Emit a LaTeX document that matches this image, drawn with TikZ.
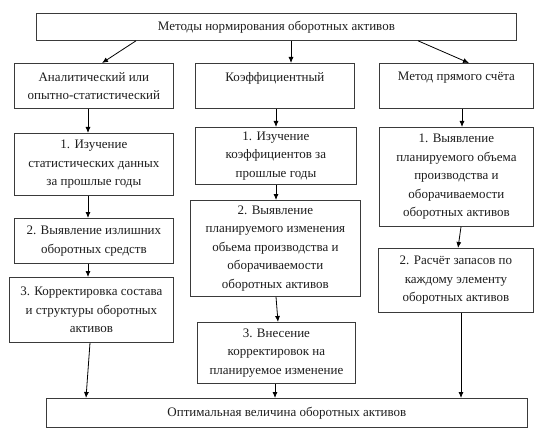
\documentclass[tikz,border=0pt]{standalone}
\usepackage{fontspec}
\setmainfont{Liberation Serif}
\usetikzlibrary{arrows.meta}
\definecolor{boxline}{HTML}{3A3A3A}
\definecolor{txt}{HTML}{1E1E1E}
\tikzset{
  box/.style={draw=boxline, line width=0.8pt, anchor=north west, align=center,
    inner sep=0pt, text=txt, font=\fontsize{13}{18.5}\selectfont},
  arr/.style={draw=black, line width=0.8pt, -{Latex[length=6pt,width=5pt]}}
}
\begin{document}
\begin{tikzpicture}[x=1pt,y=-1pt]
\useasboundingbox[fill=white] (0,0) rectangle (543,441);
\node[box, minimum width=480pt, minimum height=27pt] (top) at (36,13) {Методы нормирования оборотных активов};
\node[box, minimum width=159pt, minimum height=45pt] (ana) at (14,63) {Аналитический или\\опытно-статистический};
\node[box, minimum width=159pt, minimum height=45pt] (koef) at (195,63) {Коэффициентный\\\mbox{}};
\node[box, minimum width=154pt, minimum height=45pt] (pr) at (379,63) {Метод прямого счёта\\\mbox{}};
\node[box, minimum width=159pt, minimum height=62pt] (a1) at (14,133) {1. Изучение\\статистических данных\\за прошлые годы};
\node[box, minimum width=159pt, minimum height=45pt] (a2) at (14,218) {2. Выявление излишних\\оборотных средств};
\node[box, minimum width=164pt, minimum height=65pt] (a3) at (9,277) {3. Корректировка состава\\и структуры оборотных\\активов};
\node[box, minimum width=161pt, minimum height=57pt] (k1) at (195,127) {1. Изучение\\коэффициентов за\\прошлые годы};
\node[box, minimum width=170pt, minimum height=96pt] (k2) at (190,200) {2. Выявление\\планируемого изменения\\обьема производства и\\оборачиваемости\\оборотных активов};
\node[box, minimum width=158pt, minimum height=61pt] (k3) at (197,322) {3. Внесение\\корректировок на\\планируемое изменение};
\node[box, minimum width=154pt, minimum height=99pt] (p1) at (379,127) {1. Выявление\\планируемого объема\\производства и\\оборачиваемости\\оборотных активов};
\node[box, minimum width=155pt, minimum height=64pt] (p2) at (378,248) {2. Расчёт запасов по\\каждому элементу\\оборотных активов};
\node[box, minimum width=481pt, minimum height=29pt] (bot) at (46,398) {Оптимальная величина оборотных активов};

\draw[arr] ([xshift=100pt]top.south west) -- ([xshift=88pt]ana.north west);
\draw[arr] ([xshift=255pt]top.south west) -- ([xshift=96pt]koef.north west);
\draw[arr] ([xshift=382pt]top.south west) -- ([xshift=90pt]pr.north west);
\draw[arr] ([xshift=74pt]ana.south west) -- ([xshift=74pt]a1.north west);
\draw[arr] ([xshift=74pt]a1.south west) -- ([xshift=74pt]a2.north west);
\draw[arr] ([xshift=74pt]a2.south west) -- ([xshift=79pt]a3.north west);
\draw[arr] ([xshift=81pt]a3.south west) -- ([xshift=40pt]bot.north west);
\draw[arr] ([xshift=81pt]koef.south west) -- ([xshift=81pt]k1.north west);
\draw[arr] ([xshift=81pt]k1.south west) -- ([xshift=86pt]k2.north west);
\draw[arr] ([xshift=86pt]k2.south west) -- ([xshift=81pt]k3.north west);
\draw[arr] ([xshift=78pt]k3.south west) -- ([xshift=229pt]bot.north west);
\draw[arr] ([xshift=83pt]pr.south west) -- ([xshift=83pt]p1.north west);
\draw[arr] ([xshift=82pt]p1.south west) -- ([xshift=80pt]p2.north west);
\draw[arr] ([xshift=83pt]p2.south west) -- ([xshift=415pt]bot.north west);
\end{tikzpicture}
\end{document}
